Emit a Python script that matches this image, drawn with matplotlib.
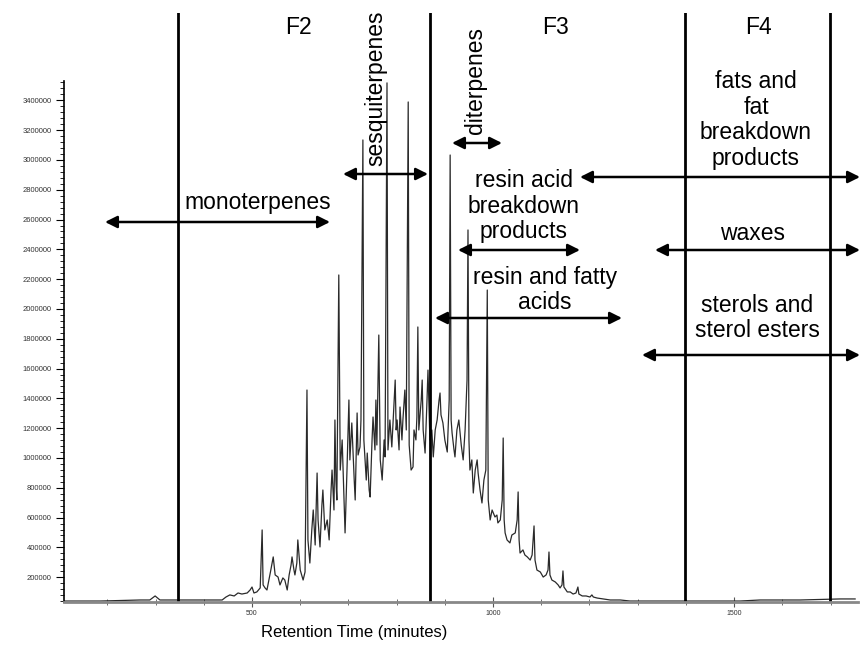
import matplotlib
matplotlib.use("Agg")
import matplotlib.pyplot as plt
from matplotlib.ticker import FixedLocator, MultipleLocator, FuncFormatter

plt.rcParams['font.family'] = ['Liberation Sans', 'DejaVu Sans']

# ---------------- data ----------------
retention = [
    110, 185, 268, 288, 299, 309, 346, 392, 438, 446,
    454, 463, 471, 479, 490, 496, 500, 504, 510, 517,
    521, 523, 527, 531, 535, 539, 544, 548, 554, 558,
    564, 568, 573, 577, 581, 583, 587, 589, 593, 595,
    600, 606, 610, 614, 616, 620, 624, 627, 631, 635,
    637, 641, 645, 647, 651, 656, 660, 664, 666, 670,
    672, 674, 676, 680, 683, 687, 691, 693, 697, 701,
    703, 707, 712, 714, 718, 720, 724, 726, 730, 732,
    737, 739, 743, 745, 749, 751, 755, 757, 759, 763,
    766, 770, 774, 776, 780, 782, 786, 790, 795, 797,
    799, 801, 805, 807, 811, 813, 817, 820, 824, 826,
    830, 834, 836, 840, 842, 844, 846, 851, 853, 855,
    859, 863, 865, 869, 873, 876, 880, 884, 888, 890,
    892, 896, 900, 905, 909, 911, 913, 915, 919, 921,
    925, 929, 934, 938, 942, 946, 948, 950, 952, 956,
    959, 963, 967, 969, 973, 977, 981, 985, 988, 990,
    994, 998, 1004, 1008, 1010, 1015, 1019, 1021, 1023, 1025,
    1029, 1035, 1039, 1046, 1050, 1052, 1054, 1056, 1062, 1066,
    1071, 1077, 1081, 1085, 1087, 1091, 1098, 1104, 1110, 1114,
    1116, 1118, 1122, 1129, 1135, 1139, 1143, 1145, 1147, 1154,
    1160, 1166, 1172, 1176, 1178, 1185, 1193, 1201, 1205, 1208,
    1216, 1228, 1243, 1264, 1284, 1305, 1429, 1512, 1554, 1637,
    1720, 1751]
intensity = [
    40000, 40000, 47000, 47000, 74000, 47000, 47000, 47000, 47000, 67000,
    81000, 74000, 94000, 87000, 94000, 114000, 134000, 94000, 101000, 128000,
    517000, 148000, 128000, 114000, 181000, 248000, 336000, 215000, 201000, 148000,
    195000, 181000, 114000, 215000, 282000, 336000, 248000, 215000, 295000, 450000,
    248000, 181000, 235000, 1456000, 450000, 295000, 517000, 651000, 416000, 899000,
    584000, 403000, 685000, 785000, 517000, 584000, 450000, 785000, 919000, 651000,
    1255000, 852000, 718000, 2228000, 919000, 1121000, 718000, 497000, 919000, 1389000,
    987000, 1235000, 852000, 718000, 1302000, 1020000, 1074000, 1255000, 3134000, 1121000,
    852000, 1033000, 785000, 738000, 1121000, 1275000, 1054000, 1389000, 1087000, 1825000,
    987000, 852000, 1121000, 1007000, 3517000, 1054000, 1255000, 1074000, 1389000, 1523000,
    1188000, 1255000, 1054000, 1342000, 1121000, 1255000, 1456000, 1188000, 3389000, 1087000,
    919000, 940000, 1188000, 1121000, 1275000, 1879000, 1188000, 1389000, 1523000, 1188000,
    1033000, 1389000, 1590000, 1121000, 1188000, 1007000, 1188000, 1255000, 1389000, 1436000,
    1289000, 1235000, 1121000, 1040000, 1389000, 3033000, 1255000, 1168000, 1054000, 1007000,
    1188000, 1255000, 1087000, 987000, 1188000, 1523000, 2530000, 1121000, 919000, 987000,
    765000, 919000, 987000, 899000, 785000, 698000, 852000, 919000, 2127000, 718000,
    584000, 651000, 604000, 617000, 564000, 584000, 718000, 1134000, 584000, 497000,
    450000, 430000, 483000, 497000, 584000, 772000, 450000, 362000, 383000, 349000,
    336000, 315000, 349000, 544000, 315000, 248000, 235000, 201000, 215000, 248000,
    369000, 215000, 181000, 168000, 148000, 128000, 148000, 242000, 134000, 101000,
    101000, 87000, 94000, 134000, 87000, 74000, 74000, 67000, 81000, 67000,
    60000, 54000, 47000, 47000, 40000, 40000, 40000, 40000, 47000, 47000,
    54000, 54000]

fraction_bounds = [346, 869, 1398, 1699]
x_major = [500, 1000, 1500]
y_major = list(range(200000, 3400001, 200000))

# ---------------- figure ----------------
W, H = 861, 645
fig = plt.figure(figsize=(W / 100, H / 100), dpi=100)
ax = fig.add_axes([64 / W, 1 - 602 / H, (858 - 64) / W, (602 - 13) / H])

ax.plot(retention, intensity, color='#2a2a2a', lw=0.9)
for xb in fraction_bounds:
    ax.axvline(xb, color='black', lw=2.0)

ax.set_xlim(110, 1757)
ax.set_ylim(33500, 3986000)

for s in ['top', 'right']:
    ax.spines[s].set_visible(False)
ax.spines['left'].set_bounds(33500, 3530000)
ax.spines['left'].set_linewidth(1.2)
ax.spines['bottom'].set_color('#888888')
ax.spines['bottom'].set_linewidth(2.0)

ax.yaxis.set_major_locator(FixedLocator(y_major))
ax.yaxis.set_minor_locator(FixedLocator(list(range(40000, 3520001, 40000))))
ax.yaxis.set_major_formatter(FuncFormatter(lambda v, p: f"{int(v)}"))
ax.tick_params(axis='y', which='major', length=6, width=0.8, labelsize=5.5,
               labelcolor='#333333', pad=3)
ax.tick_params(axis='y', which='minor', length=3, width=0.6)

ax.xaxis.set_major_locator(FixedLocator(x_major))
ax.xaxis.set_minor_locator(MultipleLocator(100))
ax.tick_params(axis='x', which='major', direction='inout', length=7, width=0.8,
               labelsize=5, labelcolor='#333333', pad=2, color='#555555')
ax.tick_params(axis='x', which='minor', direction='inout', length=5, width=0.6,
               color='#555555')

fig.text(354 / W, 1 - 633 / H, 'Retention Time (minutes)', ha='center', va='center',
         fontsize=12)


def P(px, py):
    return (px / W, 1 - py / H)


FS = 16.5
def label(px, py, s, rot=0, ls=1.15):
    fig.text(*P(px, py), s, ha='center', va='center', fontsize=FS, rotation=rot,
             linespacing=ls, multialignment='center')


def arrow(x1, x2, y):
    ax.annotate('', xy=P(x2, y), xytext=P(x1, y), xycoords='figure fraction',
                textcoords='figure fraction',
                arrowprops=dict(arrowstyle='<|-|>', lw=1.8, color='black',
                                mutation_scale=18, shrinkA=0, shrinkB=0),
                annotation_clip=False)


label(298, 28, 'F2')
label(556, 27, 'F3')
label(758, 27, 'F4')
label(376, 88, 'sesquiterpenes', rot=90)
label(475, 81, 'diterpenes', rot=90)
label(258, 203, 'monoterpenes')
label(524, 206, 'resin acid\nbreakdown\nproducts')
label(545, 290, 'resin and fatty\nacids')
label(756, 120, 'fats and\nfat\nbreakdown\nproducts')
label(753, 233, 'waxes')
label(757, 318, 'sterols and\nsterol esters')

arrow(105, 330, 222)
arrow(343, 428, 174)
arrow(452, 502, 143)
arrow(580, 860, 177)
arrow(458, 580, 250)
arrow(655, 860, 250)
arrow(435, 622, 318)
arrow(642, 860, 355)

fig.savefig('out.png', dpi=100)
